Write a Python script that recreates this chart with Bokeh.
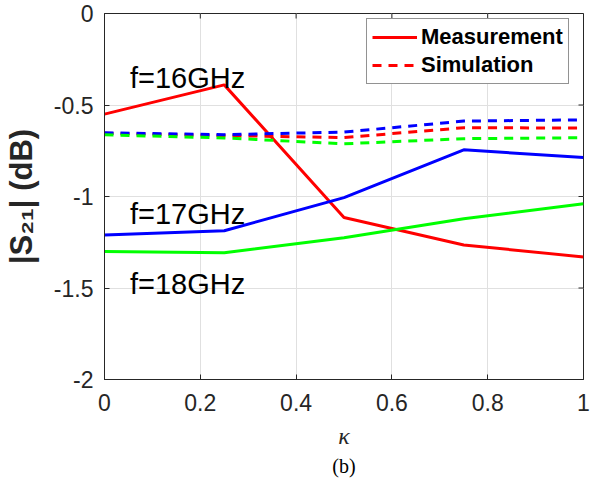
import math
from bokeh.plotting import figure
from bokeh.models import FixedTicker, Range1d, Legend, LegendItem, Title
from bokeh.core.properties import value
from bokeh.embed import file_html
from bokeh.resources import INLINE

# ---- data ----
kappa = [0.0, 0.25, 0.5, 0.75, 1.0]

meas_16 = [-0.55, -0.39, -1.115, -1.265, -1.33]
meas_17 = [-1.21, -1.187, -1.006, -0.745, -0.787]
meas_18 = [-1.30, -1.307, -1.225, -1.122, -1.04]

sim_16 = [-0.655, -0.667, -0.678, -0.624, -0.626]
sim_17 = [-0.652, -0.662, -0.648, -0.588, -0.581]
sim_18 = [-0.663, -0.680, -0.712, -0.684, -0.679]

x_ticks = [0.0, 0.2, 0.4, 0.6, 0.8, 1.0]
x_tick_labels = ["0", "0.2", "0.4", "0.6", "0.8", "1"]
y_ticks = [-2.0, -1.5, -1.0, -0.5, 0.0]
y_tick_labels = ["-2", "-1.5", "-1", "-0.5", "0"]

freq_labels = ["f=16GHz", "f=17GHz", "f=18GHz"]
freq_label_x = [0.053, 0.053, 0.053]
freq_label_y = [-0.352, -1.094, -1.478]

legend_labels = ["Measurement", "Simulation"]
x_title = "κ"
y_title = "|S₂₁| (dB)"
caption = "(b)"

# ---- styles / layout ----
RED, BLUE, GREEN = "#ff0000", "#0000ff", "#00ff00"
AX = "#262626"
FONT = "Liberation Sans"
SERIF = "Liberation Serif"
X0, X1 = 0.0, 1.0
Y0, Y1 = -2.0, 0.0

p = figure(width=592, height=480, output_backend="svg", toolbar_location=None,
           x_range=Range1d(X0, X1), y_range=Range1d(Y0, Y1),
           min_border_left=100, min_border_right=9, min_border_top=13,
           min_border_bottom=101, x_axis_label=x_title, y_axis_label=y_title)
p.outline_line_color = AX
p.outline_line_width = 1
p.background_fill_color = "white"
p.border_fill_color = "white"

xa = p.xaxis[0]
ya = p.yaxis[0]
xa.ticker = FixedTicker(ticks=x_ticks)
ya.ticker = FixedTicker(ticks=y_ticks)
xa.major_label_overrides = dict(zip(x_ticks, x_tick_labels))
ya.major_label_overrides = dict(zip(y_ticks, y_tick_labels))
for ax in (xa, ya):
    ax.axis_line_color = AX
    ax.major_tick_line_color = AX
    ax.major_tick_in = 5
    ax.major_tick_out = 0
    ax.minor_tick_line_color = None
    ax.major_label_text_font = FONT
    ax.major_label_text_font_size = "23px"
    ax.major_label_text_color = AX
    ax.axis_label_text_color = AX
xa.major_label_standoff = 14
ya.major_label_standoff = 11
xa.axis_label_text_font = SERIF
xa.axis_label_text_font_style = "italic"
xa.axis_label_text_font_size = "24px"
xa.axis_label_standoff = 9
ya.axis_label_text_font = FONT
ya.axis_label_text_font_style = "bold"
ya.axis_label_text_font_size = "31px"
ya.axis_label_standoff = 12

p.xgrid.ticker = FixedTicker(ticks=x_ticks)
p.ygrid.ticker = FixedTicker(ticks=y_ticks)
p.grid.grid_line_color = "#e0e0e0"
p.grid.grid_line_width = 1

# inward ticks on the right and top edges of the box
p.ray(x=[X1] * len(y_ticks), y=y_ticks, length=5, length_units="screen",
      angle=math.pi, line_color=AX, line_width=1)
p.ray(x=x_ticks, y=[Y1] * len(x_ticks), length=5, length_units="screen",
      angle=-math.pi / 2, line_color=AX, line_width=1)

# lines
lw = 3
dash = "9 7"
r_m16 = p.line(kappa, meas_16, line_color=RED, line_width=lw)
p.line(kappa, meas_17, line_color=BLUE, line_width=lw)
p.line(kappa, meas_18, line_color=GREEN, line_width=lw)
r_s16 = p.line(kappa, sim_16, line_color=RED, line_width=lw, line_dash=dash)
p.line(kappa, sim_17, line_color=BLUE, line_width=lw, line_dash=dash)
p.line(kappa, sim_18, line_color=GREEN, line_width=lw, line_dash=dash)

# frequency annotations
p.text(x=freq_label_x, y=freq_label_y, text=freq_labels,
       text_font=value(FONT), text_font_size="29px",
       text_baseline="alphabetic", text_align="left", text_color="black")

legend = Legend(items=[LegendItem(label=legend_labels[0], renderers=[r_m16]),
                       LegendItem(label=legend_labels[1], renderers=[r_s16])],
                location=(262, 295), orientation="vertical")
legend.border_line_color = AX
legend.border_line_width = 1
legend.background_fill_color = "white"
legend.background_fill_alpha = 1
legend.label_text_font = FONT
legend.label_text_font_style = "bold"
legend.label_text_font_size = "22px"
legend.label_text_color = "black"
legend.glyph_width = 45
legend.glyph_height = 26
legend.label_height = 26
legend.label_standoff = 4
legend.padding = 5
legend.spacing = 2
legend.margin = 0
p.add_layout(legend)

cap = Title(text=caption, align="center", text_font=SERIF,
            text_font_size="20px", text_font_style="normal",
            text_color="black", standoff=2)
p.add_layout(cap, "below")

open("out.html", "w").write(file_html(p, INLINE))
